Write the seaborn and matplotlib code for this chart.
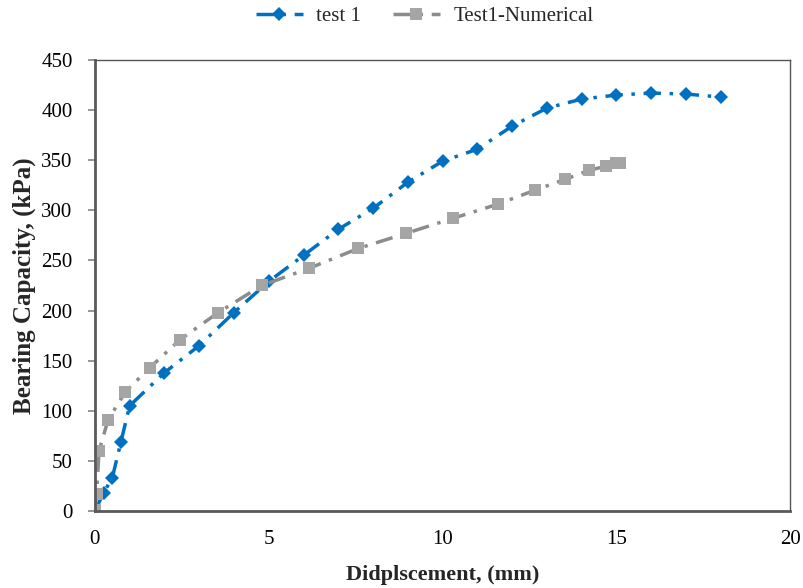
import matplotlib
matplotlib.use("Agg")
import matplotlib.pyplot as plt
import seaborn as sns
import pandas as pd

test_x = [0, 0.25, 0.5, 0.75, 1, 2, 3, 4, 5, 6, 7, 8, 9, 10, 11, 12, 13, 14, 15, 16, 17, 18]
test_y = [0, 18, 33, 69, 105, 138, 165, 198, 229, 255, 281, 302, 328, 349, 361, 384, 402, 411, 415, 417, 416, 413]

num_x = [0, 0.05, 0.12, 0.38, 0.88, 1.58, 2.45, 3.55, 4.8, 6.15, 7.58, 8.95, 10.3, 11.58, 12.65, 13.53, 14.22, 14.7, 15.0, 15.1]
num_y = [1, 17, 60, 91, 119, 143, 171, 198, 225, 242, 262, 277, 292, 306, 320, 331, 340, 344, 347, 347]

sns.set_theme(style="white")
plt.rcParams['font.family'] = ['Liberation Serif', 'DejaVu Serif']

fig, ax = plt.subplots(figsize=(8.04, 5.88), dpi=100)
fig.subplots_adjust(left=0.118, right=0.983, top=0.898, bottom=0.131)

df1 = pd.DataFrame({"x": test_x, "y": test_y})
df2 = pd.DataFrame({"x": num_x, "y": num_y})

sns.lineplot(data=df1, x="x", y="y", ax=ax, color="#0070C0", linestyle=(0, (5, 2.5, 1, 2.5)),
             linewidth=2.5, marker="D", markersize=7.5, markeredgewidth=0,
             label="test 1", sort=False)
sns.lineplot(data=df2, x="x", y="y", ax=ax, color="#8C8C8C", linestyle=(0, (5, 2.5, 1, 2.5)),
             linewidth=2.5, marker="s", markersize=8.5, markeredgewidth=0,
             markerfacecolor="#A5A5A5", label="Test1-Numerical", sort=False)

ax.set_xlim(0, 20)
ax.set_ylim(0, 450)
ax.set_xticks([0, 5, 10, 15, 20])
ax.set_yticks(range(0, 451, 50))
ax.tick_params(axis="both", labelsize=15, colors="black")
ax.tick_params(axis="x", direction="in", length=5, pad=13.5, color="#888888")
ax.tick_params(axis="y", direction="out", length=5, pad=11, left=True, color="#888888")
for s in ["left", "bottom"]:
    ax.spines[s].set_color("#595959")
    ax.spines[s].set_linewidth(2)
for s in ["top", "right"]:
    ax.spines[s].set_color("#555555")
    ax.spines[s].set_linewidth(1)

ax.set_xlabel("Didplscement, (mm)", fontsize=16, fontweight="bold", labelpad=12)
ax.set_ylabel("Bearing Capacity, (kPa)", fontsize=18, fontweight="bold", labelpad=4)

ax.legend(loc="center", bbox_to_anchor=(0.474, 1.096), ncol=2, frameon=False,
          fontsize=15, handlelength=2.26, handletextpad=0.63, columnspacing=1.54)

fig.savefig("out.png", dpi=100)
